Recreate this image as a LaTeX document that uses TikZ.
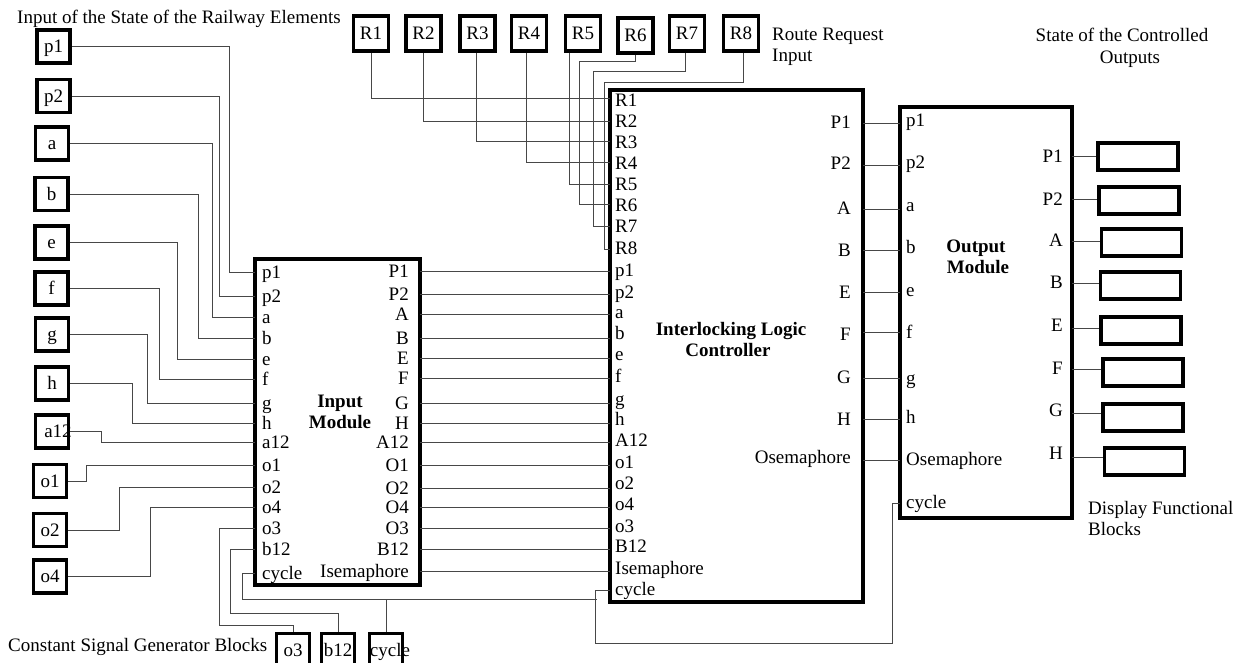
\documentclass[tikz,border=0pt]{standalone}
\usepackage{fontspec}
\setmainfont{Liberation Serif}
\begin{document}
\begin{tikzpicture}[x=1pt,y=-1pt,
  txt/.style={font=\fontsize{19}{21.5}\selectfont, text height=12.5pt, text depth=0pt, inner sep=0pt},
  ttl/.style={txt, font=\bfseries\fontsize{19}{21.5}\selectfont},
  wire/.style={draw=black!72, line width=1pt},
  sbox/.style={txt, draw, line width=3.5pt, minimum width=33pt, minimum height=33pt},
  rbox/.style={txt, draw, line width=3.5pt, minimum width=35pt, minimum height=35pt},
  dbox/.style={draw, line width=3.5pt, minimum width=80pt, minimum height=27pt, inner sep=0pt},
  module/.style={draw, line width=3.5pt, inner sep=0pt},
]
\useasboundingbox (0,0) rectangle (1237,662);
\clip (0,0) rectangle (1237,662);

% ---------- titles / notes ----------
\node[txt,anchor=west] (t-in) at (17,17) {Input of the State of the Railway Elements};
\node[txt,anchor=west] (t-rr1) at (772,34) {Route Request};
\node[txt,anchor=west] (t-rr2) at (772,55) {Input};
\node[txt] (t-so1) at (1122,35) {State of the Controlled};
\node[txt] (t-so2) at (1130,57) {Outputs};
\node[txt,anchor=west] (t-df1) at (1088,508) {Display Functional};
\node[txt,anchor=west] (t-df2) at (1088,529) {Blocks};
\node[txt,anchor=west] (t-cs) at (8,645) {Constant Signal Generator Blocks};

% ---------- modules ----------
\node[module, minimum width=165pt, minimum height=326pt] (im) at (337.5,422) {};
\node[module, minimum width=253pt, minimum height=512pt] (ilc) at (736.5,346) {};
\node[module, minimum width=172pt, minimum height=411pt] (om) at (986,312.5) {};
\node[ttl] (im-t1) at (340,401) {Input};
\node[ttl] (im-t2) at (340,422) {Module};
\node[ttl] (ilc-t1) at (731,329) {Interlocking Logic};
\node[ttl] (ilc-t2) at (728,350) {Controller};
\node[ttl] (om-t1) at (976,246) {Output};
\node[ttl] (om-t2) at (978,267) {Module};

% ---------- input module left ports ----------
\foreach \n/\y in {p1/272, p2/296, a/317, b/338, e/359, f/379, g/403, h/423, a12/442, o1/465, o2/487, o4/507, o3/528, b12/549, cycle/573} {
  \coordinate (imL-\n) at (255,\y);
  \node[txt,anchor=west] (imLt-\n) at (262,\y) {\n};
}

% ---------- input module -> ILC ----------
\foreach \a/\b/\yl/\yw in {P1/p1/270/271, P2/p2/292/294, A/a/312/314, B/b/333/338, E/e/354/358, F/f/376/378, G/g/399/403, H/h/419/423, A12/A12/440/442, O1/o1/462/465, O2/o2/483/488, O4/o4/504/507, O3/o3/526/528, B12/B12/546/549, Isemaphore/Isemaphore/568/571} {
  \coordinate (imR-\a) at (420,\yw);
  \node[txt,anchor=east] (imRt-\a) at (409,\yw) {\a};
  \coordinate (ilcL-\a) at (610,\yw);
  \node[txt,anchor=west] (ilcLt-\a) at (615,\yl) {\b};
  \draw[wire] (imR-\a) -- (ilcL-\a);
}

% ---------- ILC route ports ----------
\foreach \n/\yl/\yw in {R1/100/98, R2/121/121, R3/142/141, R4/163/162, R5/184/184, R6/205/204, R7/226/226, R8/248/249, cycle/589/590} {
  \coordinate (ilcL-\n) at (610,\yw);
  \node[txt,anchor=west] (ilcLt-\n) at (615,\yl) {\n};
}

% ---------- ILC -> output module ----------
\foreach \a/\b/\yl/\yw/\yo in {P1/p1/122/123/120, P2/p2/163/165/162, A/a/208/209/205, B/b/250/250/247, E/e/292/292/290, F/f/334/332/332, G/g/377/378/378, H/h/419/419/417, Osemaphore/Osemaphore/457/460/459} {
  \coordinate (ilcR-\a) at (863,\yw);
  \node[txt,anchor=east] (ilcRt-\a) at (851,\yl) {\a};
  \coordinate (omL-\a) at (900,\yw);
  \node[txt,anchor=west] (omLt-\a) at (906,\yo) {\b};
  \draw[wire] (ilcR-\a) -- (omL-\a);
}
\coordinate (omL-cycle) at (900,503);
\node[txt,anchor=west] (omLt-cycle) at (906,502) {cycle};

% ---------- output module -> display blocks ----------
\foreach \a/\yl/\yw/\xb/\yb in {P1/156/156/1138/156.5, P2/199/199/1139/200.5, A/240/241/1141.5/242.5, B/282/283/1140.5/285.5, E/325/328/1141/330.5, F/368/369/1143/372.5, G/410/413/1143/417.5, H/453/457/1144.5/461.5} {
  \node[txt,anchor=east] (omRt-\a) at (1063,\yl) {\a};
  \node[dbox] (d-\a) at (\xb,\yb) {};
  \coordinate (omR-\a) at (1072,\yw);
  \draw[wire] (omR-\a) -- (omR-\a -| d-\a.west);
}

% ---------- left input boxes ----------
\foreach \n/\x/\y in {p1/53.5/46.5, p2/53.5/96, a/52/143.5, b/51.5/194, e/51.5/242.5, f/51.5/288.5, g/52/334.5, h/52/383.5, o1/50/481, o2/50/530, o4/50/576.5} {
  \node[sbox] (b\n) at (\x,\y) {\n};
}
\node[sbox] (ba12) at (52,431.5) {\makebox[0pt]{\hspace{12pt}a12}};

\draw[wire] (bp1.east) -| (229,272) -- (imL-p1);
\draw[wire] (bp2.east) -| (219,296) -- (imL-p2);
\draw[wire] (ba.east) -| (212,317) -- (imL-a);
\draw[wire] (bb.east) -| (198,338) -- (imL-b);
\draw[wire] (be.east) -| (177,359) -- (imL-e);
\draw[wire] (bf.east) -| (159,379) -- (imL-f);
\draw[wire] (bg.east) -| (147,403) -- (imL-g);
\draw[wire] (bh.east) -| (132,423) -- (imL-h);
\draw[wire] (ba12.east) -| (101,442) -- (imL-a12);
\draw[wire] (bo1.east) -| (86,465) -- (imL-o1);
\draw[wire] (bo2.east) -| (119,487) -- (imL-o2);
\draw[wire] (bo4.east) -| (150,507) -- (imL-o4);

% ---------- route request boxes ----------
\foreach \n/\x/\y in {R1/371/33.5, R2/423.5/33.5, R3/477.5/33.5, R4/529/33.5, R5/583/33.5, R6/635.5/35.5, R7/687/33.5, R8/741/33.5} {
  \node[rbox] (b\n) at (\x,\y) {\n};
}
\draw[wire] (bR1.south) |- (ilcL-R1);
\draw[wire] (bR2.south) |- (ilcL-R2);
\draw[wire] ([xshift=-1.5pt]bR3.south) |- (ilcL-R3);
\draw[wire] ([xshift=-3pt]bR4.south) |- (ilcL-R4);
\draw[wire] ([xshift=-14pt]bR5.south) |- (ilcL-R5);
\draw[wire] (bR6.south) |- (579,61) |- (ilcL-R6);
\draw[wire] ([xshift=-2pt]bR7.south) |- (593,71) |- (ilcL-R7);
\draw[wire] ([xshift=2pt]bR8.south) |- (604,82) |- (ilcL-R8);

% ---------- constant signal generator blocks ----------
\node[sbox] (co3) at (293,650) {o3};
\node[sbox] (cb12) at (338,650) {b12};
\node[sbox] (ccy) at (386,650) {\makebox[0pt]{\hspace{8pt}cycle}};

\draw[wire] (imL-o3) -| (219,625) -| (co3.north);
\draw[wire] (imL-b12) -| (230,613) -| (cb12.north);
\coordinate (cj) at (242,599);
\draw[wire] (imL-cycle) -| (cj) -- (597,599);
\draw[wire] (ccy.north) -- (ccy.north |- cj);
\draw[wire] (ilcL-cycle) -- (595,590) -- (595,643) -| (892,503) -- (omL-cycle);
\end{tikzpicture}
\end{document}
